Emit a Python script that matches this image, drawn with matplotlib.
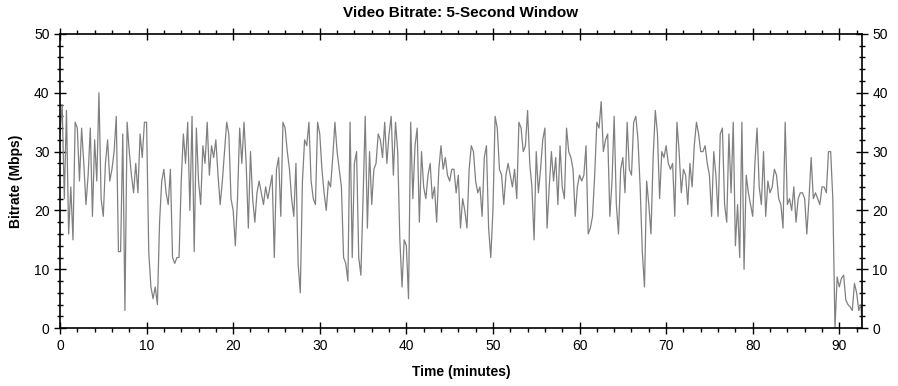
import matplotlib
matplotlib.use("Agg")
import matplotlib.pyplot as plt
from matplotlib.ticker import MultipleLocator
import numpy as np

# bitrate samples, one row per minute (4 samples per minute)
step = 0.25
mbps = [
    33, 38, 22, 37,     # 0
    16, 24, 15, 35,     # 1
    34, 25, 34, 28,     # 2
    21, 26, 34, 19,     # 3
    32, 25, 40, 22,     # 4
    19, 28, 32, 25,     # 5
    27, 30, 36, 13,     # 6
    13, 33, 3, 35,      # 7
    30, 26, 23, 28,     # 8
    23, 33, 29, 35,     # 9
    35, 13, 7, 5,       # 10
    7, 4, 18, 25,       # 11
    27, 23, 21, 27,     # 12
    12, 11, 12, 12,     # 13
    25, 33, 28, 35,     # 14
    20, 36, 13, 34,     # 15
    25, 21, 31, 28,     # 16
    35, 26, 31, 29,     # 17
    32, 26, 21, 25,     # 18
    30, 35, 33, 22,     # 19
    20, 14, 22, 34,     # 20
    28, 35, 28, 17,     # 21
    30, 22, 18, 23,     # 22
    25, 23, 21, 24,     # 23
    22, 24, 26, 12,     # 24
    27, 29, 19, 35,     # 25
    34, 30, 27, 22,     # 26
    19, 28, 11, 6,      # 27
    25, 32, 31, 35,     # 28
    25, 22, 21, 35,     # 29
    33, 27, 23, 20,     # 30
    25, 24, 29, 35,     # 31
    30, 27, 24, 12,     # 32
    11, 8, 35, 12,      # 33
    28, 30, 12, 9,      # 34
    22, 36, 17, 30,     # 35
    21, 27, 28, 33,     # 36
    32, 29, 35, 28,     # 37
    33, 36, 26, 35,     # 38
    30, 15, 7, 15,      # 39
    14, 5, 35, 22,      # 40
    31, 34, 18, 30,     # 41
    24, 22, 26, 28,     # 42
    22, 24, 18, 27,     # 43
    31, 27, 29, 26,     # 44
    25, 27, 27, 23,     # 45
    26, 17, 22, 20,     # 46
    17, 27, 31, 30,     # 47
    25, 23, 24, 19,     # 48
    29, 31, 17, 12,     # 49
    20, 36, 34, 27,     # 50
    26, 21, 26, 28,     # 51
    26, 24, 27, 22,     # 52
    35, 34, 30, 31,     # 53
    37, 28, 24, 15,     # 54
    30, 23, 27, 32,     # 55
    34, 17, 24, 30,     # 56
    25, 29, 21, 31,     # 57
    24, 22, 34, 30,     # 58
    29, 27, 19, 24,     # 59
    26, 25, 26, 31,     # 60
    16, 17, 19, 26,     # 61
    35, 34, 38.5, 30,   # 62
    32, 33, 19, 25,     # 63
    36, 21, 16, 27,     # 64
    29, 23, 35, 27,     # 65
    26, 35, 36, 32,     # 66
    24, 13, 7, 25,      # 67
    21, 16, 29, 37,     # 68
    33, 22, 30, 29,     # 69
    31, 28, 27, 28,     # 70
    19, 35, 30, 23,     # 71
    27, 26, 21, 28,     # 72
    24, 31, 35, 33,     # 73
    30, 30, 31, 28,     # 74
    26, 19, 30, 26,     # 75
    19, 33, 34, 21,     # 76
    18, 33, 23, 35,     # 77
    14, 21, 12, 35,     # 78
    10, 26, 23, 21,     # 79
    19, 28, 34, 24,     # 80
    21, 30, 19, 25,     # 81
    23, 24, 27, 26,     # 82
    22, 21, 17, 35,     # 83
    21, 22, 20, 24,     # 84
    18, 22, 23, 23,     # 85
    22, 16, 22, 29,     # 86
    22, 23, 22, 21,     # 87
    24, 24, 23, 30,     # 88
    30, 22, 0, 8.7,     # 89
    7, 8.5, 9, 4.8,     # 90
    4, 3.6, 3, 7.6,     # 91
    6, 3, 4,            # 92
]
end_time = 92.63
end_value = 0

minutes = list(np.arange(len(mbps)) * step) + [end_time]
values = mbps + [end_value]

fig = plt.figure(figsize=(8.98, 3.86), dpi=100)
ax = fig.add_axes([0.0668, 0.150, 0.8932, 0.762])

ax.plot(minutes, values, color="#808080", linewidth=0.9)

ax.set_xlim(0, end_time)
ax.set_ylim(0, 50)
ax.xaxis.set_major_locator(MultipleLocator(10))
ax.xaxis.set_minor_locator(MultipleLocator(2))
ax.yaxis.set_major_locator(MultipleLocator(10))
ax.yaxis.set_minor_locator(MultipleLocator(2))

ax.tick_params(which="major", direction="inout", length=8, width=1,
               top=True, right=True, labelright=True, labelsize=10,
               colors="black")
ax.tick_params(axis="x", which="minor", direction="out", length=3, width=1,
               top=True)
ax.tick_params(axis="y", which="minor", direction="inout", length=5, width=1,
               right=True)
for sp in ax.spines.values():
    sp.set_linewidth(1.2)

for lab in ax.get_xticklabels() + ax.get_yticklabels():
    lab.set_family("Liberation Sans")

ax.set_title("Video Bitrate: 5-Second Window", fontsize=11, fontweight="bold",
             family="Liberation Sans", pad=12)
ax.set_xlabel("Time (minutes)", fontsize=10, fontweight="bold",
              family="Liberation Sans", labelpad=9)
ax.set_ylabel("Bitrate (Mbps)", fontsize=10, fontweight="bold",
              family="Liberation Sans", labelpad=8)

fig.savefig("out.png", dpi=100)
